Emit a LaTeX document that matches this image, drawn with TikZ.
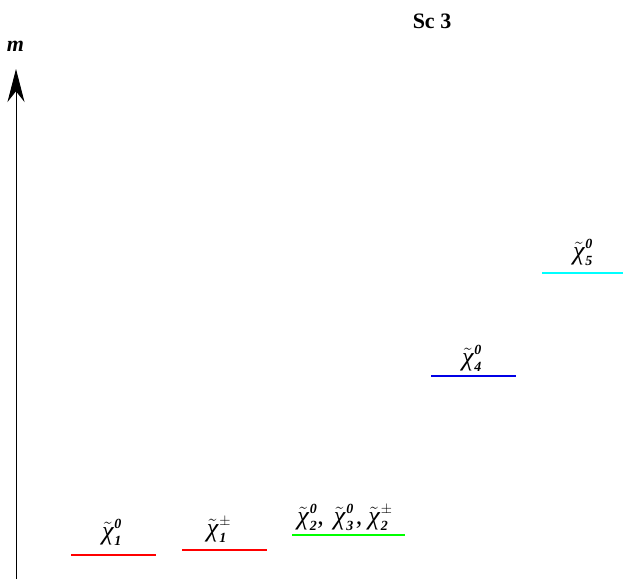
\documentclass[tikz,border=0pt]{standalone}
\usepackage{fontspec}
\setmainfont{Liberation Serif}
\usetikzlibrary{arrows.meta}
\definecolor{lvred}{RGB}{255,0,0}
\definecolor{lvgreen}{RGB}{0,255,0}
\definecolor{lvblue}{RGB}{0,0,230}
\definecolor{lvcyan}{RGB}{0,255,255}
\newcommand{\ixs}[1]{\mbox{\fontsize{14}{14}\selectfont\bfseries\itshape #1}}
\newcommand{\chit}{\tilde{\mbox{\itshape χ}}}
\newcommand{\neut}[2]{$\chit^{\kern1pt\ixs{#1}}_{\kern1pt\ixs{#2}}$}
\tikzset{
  level/.style={line width=2pt},
  lbl/.style={inner sep=0pt, anchor=south, font=\fontsize{26}{26}\selectfont},
}
\begin{document}
\begin{tikzpicture}[x=1pt,y=-1pt]
\useasboundingbox (0,0) rectangle (623,579);
% axis
\coordinate (axb) at (16,579);
\coordinate (axt) at (16,69);
\draw[line width=0.9pt,-{Stealth[length=33pt,width=17pt]}] (axb) -- (axt);
\node[font=\fontsize{22}{22}\selectfont\bfseries\itshape] (m) at (15.5,46) {m};
\node[font=\fontsize{22}{22}\selectfont\bfseries] (title) at (432,21) {Sc 3};
% levels
\draw[level,lvred] (71,555) coordinate (a1) -- (156,555) coordinate (a2);
\draw[level,lvred] (182,550) coordinate (b1) -- (267,550) coordinate (b2);
\draw[level,lvgreen] (292,535) coordinate (c1) -- (405,535) coordinate (c2);
\draw[level,lvblue] (431,376) coordinate (d1) -- (516,376) coordinate (d2);
\draw[level,lvcyan] (542,273) coordinate (e1) -- (623,273) coordinate (e2);
% labels
\node[lbl] (la) at (112,546) {\neut{0}{1}};
\node[lbl] (lb) at (219,543) {\neut{$\pm$}{1}};
\node[lbl] (lc) at (345,531) {\neut{0}{2},\hspace{10pt}\neut{0}{3}\hspace{2pt},\hspace{6pt}\neut{$\pm$}{2}};
\node[lbl] (ld) at (472,372) {\neut{0}{4}};
\node[lbl] (le) at (583,266) {\neut{0}{5}};
\end{tikzpicture}
\end{document}
